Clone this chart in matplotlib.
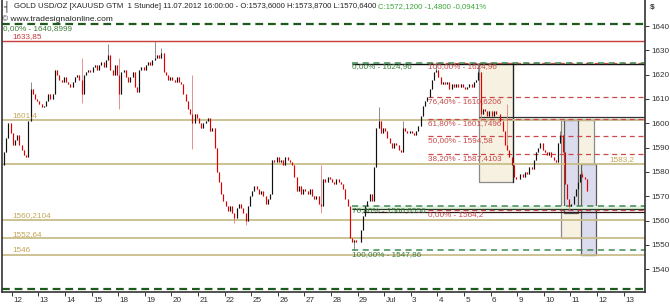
import matplotlib
matplotlib.use('Agg')
import matplotlib.pyplot as plt
from matplotlib.patches import Rectangle
from matplotlib.transforms import ScaledTranslation

plt.rcParams['font.family'] = ['Liberation Sans', 'DejaVu Sans']

# ---------------- data ----------------
day_labels = ['12', '13', '14', '15', '18', '19', '20', '21', '22', '25', '26', '27',
              '28', '29', 'Jul', '3', '4', '5', '6', '9', '10', '11', '12', '13']
bars_per_day = 12          # two-hour bars
first_open = 1583.0

jun11 = [1588, 1594, 1600, 1596]
jun12 = [1591, 1593, 1595, 1591, 1589, 1587, 1586, 1601, 1614, 1612, 1610, 1609]
jun13 = [1608, 1606.5, 1607, 1609, 1612, 1610, 1612, 1622, 1620, 1618, 1617, 1619]
jun14 = [1617, 1616, 1615, 1617, 1619, 1620, 1618, 1612, 1620, 1621, 1622, 1621]
jun15 = [1623, 1624, 1622, 1624, 1625, 1623, 1626, 1628, 1622, 1620, 1624, 1620]
jun18 = [1612, 1621, 1622, 1619, 1617, 1619, 1621, 1615, 1613, 1622, 1623, 1622]
jun19 = [1624, 1625, 1624, 1626, 1627, 1628, 1627, 1629, 1621, 1620, 1618, 1619]
jun20 = [1618, 1617, 1619, 1617, 1616, 1612, 1609, 1606, 1604, 1600, 1604, 1602]
jun21 = [1600, 1598, 1600, 1601, 1602, 1597, 1598, 1590, 1580, 1576, 1571, 1568]
jun22 = [1566, 1564, 1566, 1563, 1561, 1565, 1567, 1565, 1563, 1560, 1566, 1570]
jun25 = [1572, 1574, 1573, 1571, 1572, 1570, 1567, 1569, 1571, 1585, 1584, 1586]
jun26 = [1584, 1585, 1583, 1586, 1585, 1584, 1583, 1578, 1572, 1574, 1571, 1573]
jun27 = [1572, 1571, 1573, 1570, 1569, 1570, 1567, 1566, 1577, 1576, 1578, 1577]
jun28 = [1576, 1575, 1577, 1576, 1575, 1573, 1569, 1566, 1553, 1551, 1552, 1551]
jun29 = [1551, 1556, 1562, 1566, 1568, 1571, 1568, 1582, 1598, 1601, 1596, 1598]
jul02 = [1597, 1594, 1592, 1590, 1592, 1591, 1589, 1588, 1598, 1597, 1596, 1597]
jul03 = [1596, 1595, 1597, 1599, 1603, 1607, 1609, 1611, 1614, 1618, 1621, 1622]
jul04 = [1619, 1616, 1617, 1616, 1617, 1614, 1616, 1615, 1616, 1615, 1616, 1615]
jul05 = [1614, 1615, 1616, 1615, 1617, 1618, 1621, 1604, 1606, 1605, 1603, 1605]
jul06 = [1603, 1605, 1604, 1604, 1601, 1597, 1591, 1589, 1586, 1583, 1578, 1577]
jul09 = [1577, 1579, 1578, 1580, 1579, 1582, 1581, 1585, 1588, 1590, 1592, 1589]
jul10 = [1588, 1587, 1588, 1586, 1585, 1584, 1592, 1595, 1588, 1575, 1569, 1566]
jul11 = [1567, 1570, 1573, 1576, 1579, 1578, 1577, 1572.12]

daily_closes = [jun11, jun12, jun13, jun14, jun15, jun18, jun19, jun20, jun21, jun22,
                jun25, jun26, jun27, jun28, jun29, jul02, jul03, jul04, jul05, jul06,
                jul09, jul10, jul11]
day_pos = list(range(-1, 22))
day_first_bar = [8] + [0] * 22

# (day position, bar number, high, low) for long wicks
spikes = [(0, 8, 1617, None), (2, 7, 1627, 1608.5), (3, 7, 1632.5, None),
          (4, 0, 1627, 1606), (5, 4, 1633.8, None), (5, 7, 1631, None),
          (6, 9, 1620, 1589.5), (8, 4, None, 1559), (8, 9, None, 1558),
          (11, 7, 1583, 1563), (12, 10, None, 1547.9), (13, 9, 1606.5, None),
          (14, 8, 1601, None), (15, 11, 1625, None), (17, 6, 1624.96, None),
          (17, 7, None, 1601), (18, 7, 1608, None), (20, 7, 1597, None),
          (20, 11, None, 1564.2), (21, 5, 1580.5, None)]

tan_levels = [1601.4, 1583.2, 1560.2104, 1552.64, 1546.0]
tan_texts = ['1601,4', '1583,2', '1560,2104', '1552,64', '1546']
red_level = 1633.85
red_text = '1633,85'
green_top, green_top_text = 1640.8999, '0,00% - 1640,8999'
green_bottom = 1531.7

red_fib_levels = [1624.96, 1610.6206, 1601.7496, 1594.58, 1587.4103, 1564.2]
red_fib_texts = ['100,00% - 1624,96', '76,40% - 1610,6206', '61,80% - 1601,7496',
                 '50,00% - 1594,58', '38,20% - 1587,4103', '0,00% - 1564,2']
green_fib_levels = [1624.96, 1566.0556, 1547.86]
green_fib_texts = ['0,00% - 1624,96', '76,40% - 1566,0556', '100,00% - 1547,86']

# ---------------- figure ----------------
W, H = 670, 307
fig = plt.figure(figsize=(W / 100, H / 100), dpi=100)
ax_l, ax_r, ax_b = 1.5, 645.0, 292.0
ax = fig.add_axes([ax_l / W, (H - ax_b) / H, (ax_r - ax_l) / W, ax_b / H])

PX_DAY = 26.6
TICK0 = 11.7
def px2x(px):
    return (px - TICK0) / PX_DAY

x_min, x_max = px2x(ax_l), px2x(ax_r)
ax.set_xlim(x_min, x_max)
ax.set_ylim(1530.6, 1650.7)

# boxes
tan_fill, tan_edge = '#f6f1e1', '#8a8a8a'
lav_fill, lav_edge = '#dcdcef', '#5a5a5a'
ax.add_patch(Rectangle((px2x(479), 1576.0), px2x(513) - px2x(479), 1624.96 - 1576.0,
                       facecolor=tan_fill, edgecolor=tan_edge, lw=0.9, zorder=1))
ax.plot([px2x(513), px2x(513)], [1576.0, 1624.96], color='#222222', lw=0.9, zorder=1.1)
ax.add_patch(Rectangle((px2x(561), 1552.64), px2x(594) - px2x(561), 1601.4 - 1552.64,
                       facecolor=tan_fill, edgecolor=tan_edge, lw=0.9, zorder=1))
ax.add_patch(Rectangle((px2x(564), 1563.0), px2x(578) - px2x(564), 1601.4 - 1563.0,
                       facecolor=lav_fill, edgecolor=lav_edge, lw=0.9, zorder=1.2))
ax.add_patch(Rectangle((px2x(581), 1546.0), px2x(596) - px2x(581), 1583.2 - 1546.0,
                       facecolor=lav_fill, edgecolor=lav_edge, lw=0.9, zorder=1.2))

# green band near 1566
gx0 = px2x(352)
ax.add_patch(Rectangle((gx0, 1564.9), x_max - gx0, 1566.0556 - 1564.9,
                       facecolor='#e3f1e3', edgecolor='none', zorder=1.3))
ax.hlines(1564.9, gx0, x_max, color='#203a20', lw=0.9, zorder=2)
ax.hlines(1624.3, gx0, x_max, color='#111111', lw=1.0, zorder=2)
ax.hlines(1563.7, px2x(363), x_max, color='#301818', lw=0.9, zorder=2)

# double line near 1602
ax.hlines(1602.5, px2x(479), x_max, color='#333333', lw=0.9, zorder=2)
ax.hlines(1601.95, px2x(479), x_max, color='#9a9a9a', lw=0.9, zorder=2)

# tan support/resistance lines
tan_line, tan_txt = '#c9bd89', '#c4a655'
for lvl in tan_levels:
    ax.hlines(lvl, x_min, x_max, color=tan_line, lw=1.3, zorder=2)

# red solid line
ax.hlines(red_level, x_min, x_max, color='#c83c3c', lw=1.0, zorder=2)

# green outer dashed lines
for lvl in (green_top, green_bottom):
    ax.hlines(lvl, x_min, x_max, color='#1d5a1d', lw=1.6, linestyles=(0, (3.5, 2.2)), zorder=2)

# red fib dashed
rx0 = px2x(428)
for lvl in red_fib_levels:
    ax.hlines(lvl, rx0, x_max, color='#c84a4a', lw=0.9, linestyles=(0, (4, 3)), zorder=2)

# green fib dashed
for lvl in green_fib_levels:
    ax.hlines(lvl, gx0, x_max, color='#3f8a52', lw=1.1, linestyles=(0, (4, 3)), zorder=2.1)

# ---------------- candles ----------------
xs, op, hi, lo, cl = [], [], [], [], []
index_of = {}
prev = first_open
for k, start, closes in zip(day_pos, day_first_bar, daily_closes):
    for j, c in enumerate(closes):
        i = start + j
        index_of[(k, i)] = len(xs)
        xs.append(k + (i + 0.5) / bars_per_day)
        op.append(prev)
        cl.append(c)
        hi.append(max(prev, c))
        lo.append(min(prev, c))
        prev = c
for k, i, sh, sl in spikes:
    n = index_of[(k, i)]
    if sh is not None:
        hi[n] = max(hi[n], sh)
    if sl is not None:
        lo[n] = min(lo[n], sl)

up = [c >= o for o, c in zip(op, cl)]
wick_cols = ['#7a7a7a' if u else '#e08080' for u in up]
body_cols = ['#111111' if u else '#e00000' for u in up]
ax.vlines(xs, lo, hi, colors=wick_cols, lw=0.6, zorder=3)
ax.vlines(xs, op, cl, colors=body_cols, lw=0.85, zorder=3.1)

# ---------------- labels on chart ----------------
FS = 5.9
def lab(x, y, s, color, above):
    ax.annotate(s, (x, y), xytext=(0, 0.6 if above else -0.6), textcoords='offset points',
                va='bottom' if above else 'top', ha='left', fontsize=FS, color=color, zorder=5)

lab(px2x(3), green_top, green_top_text, '#3c7c3c', False)
lab(px2x(12), red_level, red_text, '#c83c3c', True)
for lvl, s in zip(tan_levels, tan_texts):
    lab(px2x(609) if s == '1583,2' else px2x(12), lvl, s, tan_txt, True)
for lvl, s in zip(red_fib_levels, red_fib_texts):
    lab(rx0, lvl, s, '#c84a4a', False)
for lvl, s in zip(green_fib_levels, green_fib_texts):
    lab(gx0, lvl, s, '#3c7c3c', False)

# ---------------- axes styling ----------------
ax.spines['top'].set_visible(False)
for side in ('left', 'right', 'bottom'):
    ax.spines[side].set_color('#333333')
    ax.spines[side].set_linewidth(1.2)

ax.yaxis.tick_right()
ax.set_yticks(list(range(1540, 1641, 10)))
ax.set_yticklabels([str(v) for v in range(1540, 1641, 10)])
ax.tick_params(axis='y', direction='out', length=3, width=0.7, pad=1.5,
               labelsize=5.9, colors='#333333')

ax.set_xticks(list(range(len(day_labels))))
ax.set_xticklabels(day_labels)
ax.tick_params(axis='x', direction='out', length=3, width=0.7, pad=0.5,
               labelsize=5.9, colors='#333333')
shift = ScaledTranslation(1.5 / 100, 0, fig.dpi_scale_trans)
for t in ax.get_xticklabels():
    t.set_ha('left')
    t.set_transform(t.get_transform() + shift)

# ---------------- header ----------------
def fx(px):
    return px / W
def fy(py):
    return 1 - py / H

fig.text(fx(3), fy(6.5), '┤', fontsize=7, family='DejaVu Sans', va='center', ha='left', color='#222222')
hdr_black = ('GOLD USD/OZ [XAUUSD GTM  1 Stunde] 11.07.2012 16:00:00 - '
             'O:1573,6000 H:1573,8700 L:1570,6400 ')
hdr_green = 'C:1572,1200 -1,4800 -0,0941%'
hdr_x0, hdr_x1 = 14, 487
tb = fig.text(fx(hdr_x0), fy(6.5), hdr_black, fontsize=6.2, va='center', ha='left', color='#222222')
tg = fig.text(0, fy(6.5), hdr_green, fontsize=6.2, va='center', ha='left', color='#3aa83a')
fig.canvas.draw()
r = fig.canvas.get_renderer()
total = tb.get_window_extent(r).width + tg.get_window_extent(r).width
fs_fit = 6.2 * (hdr_x1 - hdr_x0) / total
tb.set_fontsize(fs_fit)
tg.set_fontsize(fs_fit)
fig.canvas.draw()
bb = tb.get_window_extent(r)
tg.set_x(bb.x1 / fig.bbox.width)
fig.text(fx(2), fy(19.5), '© www.tradesignalonline.com', fontsize=6.0, va='center',
         ha='left', color='#222222')
fig.text(fx(650), fy(7), '$', fontsize=6.0, fontweight='bold', va='center', ha='left',
         color='#333333')

fig.savefig('out.png', dpi=100)
